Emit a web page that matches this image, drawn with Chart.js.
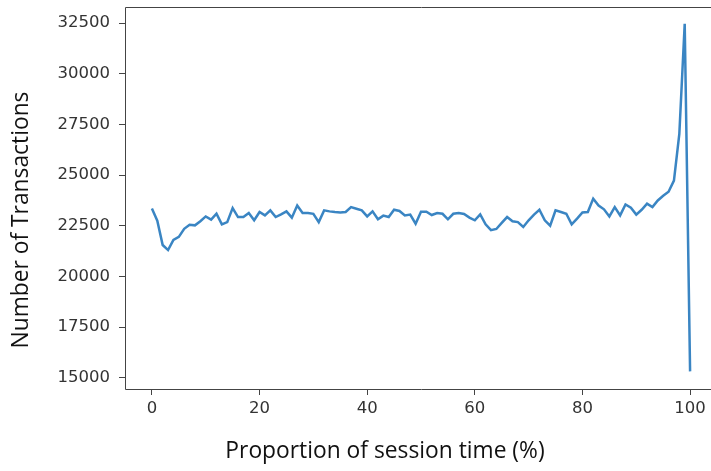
<!DOCTYPE html>
<html><head><meta charset="utf-8">
<script src="https://cdn.jsdelivr.net/npm/chart.js@4"></script>
<style>html,body{margin:0;padding:0;background:#fff;overflow:hidden;width:711px;height:471px}canvas{display:block;max-width:none}</style>
</head><body><canvas id="c" width="730" height="471" style="width:730px;height:471px"></canvas>
<script>
const proportions=[0,1,2,3,4,5,6,7,8,9,10,11,12,13,14,15,16,17,18,19,20,21,22,23,24,25,26,27,28,29,30,31,32,33,34,35,36,37,38,39,40,41,42,43,44,45,46,47,48,49,50,51,52,53,54,55,56,57,58,59,60,61,62,63,64,65,66,67,68,69,70,71,72,73,74,75,76,77,78,79,80,81,82,83,84,85,86,87,88,89,90,91,92,93,94,95,96,97,98,99,100];
const transactions=[23350,22750,21550,21300,21800,21950,22350,22550,22520,22720,
22960,22800,23100,22570,22680,23370,22930,22930,23130,22770,
23180,23010,23260,22930,23060,23210,22900,23500,23130,23130,
23090,22680,23260,23210,23180,23160,23180,23420,23340,23260,
22960,23210,22820,23000,22930,23290,23230,23010,23050,22600,
23190,23190,23030,23130,23090,22820,23090,23130,23080,22900,
22770,23060,22570,22280,22340,22640,22930,22720,22680,22440,
22770,23050,23290,22770,22500,23260,23180,23090,22570,22850,
23160,23180,23840,23500,23310,22960,23420,23010,23550,23390,
23050,23290,23590,23420,23750,23980,24180,24730,27030,32470,
15310];
const xTicks=[0,20,40,60,80,100];
const yTicks=[15000,17500,20000,22500,25000,27500,30000,32500];
const xTitle='Proportion of session time (%)';
const yTitle='Number of Transactions';

const framePlugin={
  id:'frame',
  afterDraw(chart){
    const {ctx,chartArea:a}=chart;
    const L=Math.round(a.left)+0.5,T=Math.round(a.top)+0.5,B=Math.round(a.bottom)+0.5,R=Math.round(a.right)+0.5;
    ctx.save();
    ctx.strokeStyle='#444';ctx.lineWidth=1;
    ctx.beginPath();
    ctx.moveTo(R,T);ctx.lineTo(L,T);ctx.lineTo(L,B);ctx.lineTo(R,B);
    ctx.stroke();
    ctx.fillStyle='#111';
    ctx.font='22.8px "Open Sans"';
    ctx.textAlign='center';ctx.textBaseline='middle';
    ctx.fillText(xTitle,385,452);
    ctx.translate(22,220);ctx.rotate(-Math.PI/2);
    ctx.fillText(yTitle,0,0);
    ctx.restore();
  }
};

new Chart(document.getElementById('c'),{
  type:'line',
  data:{datasets:[{
    data:proportions.map((p,i)=>({x:p,y:transactions[i]})),
    borderColor:'#3a85c3',borderWidth:2.5,pointRadius:0,tension:0,fill:false
  }]},
  options:{
    responsive:false,animation:false,devicePixelRatio:1,
    layout:{padding:{top:7,right:13,left:0,bottom:0}},
    plugins:{legend:{display:false},tooltip:{enabled:false}},
    scales:{
      x:{type:'linear',min:-5,max:105,
        afterBuildTicks:s=>{s.ticks=xTicks.map(v=>({value:v}));},
        afterFit:s=>{s.height=82;s.paddingLeft=0;s.paddingRight=0;},
        grid:{drawOnChartArea:false,drawTicks:true,tickLength:6,color:'#444'},
        border:{display:false},
        ticks:{padding:4,color:'#333',font:{family:'DejaVu Sans',size:16.5},maxRotation:0,callback:v=>String(v)}
      },
      y:{min:14440,max:33300,
        afterBuildTicks:s=>{s.ticks=yTicks.map(v=>({value:v}));},
        afterFit:s=>{s.width=125;s.paddingTop=0;s.paddingBottom=0;},
        grid:{drawOnChartArea:false,drawTicks:true,tickLength:6,color:'#444'},
        border:{display:false},
        ticks:{padding:9,color:'#333',font:{family:'DejaVu Sans',size:16.5},callback:v=>String(v)}
      }
    }
  },
  plugins:[framePlugin]
});
</script>
</body></html>
